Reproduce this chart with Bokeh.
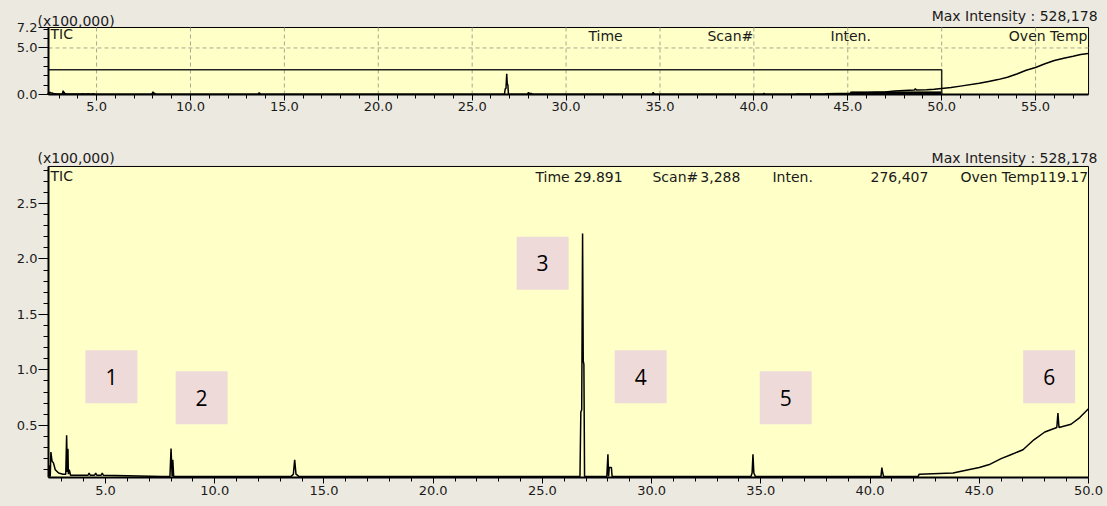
from bokeh.plotting import figure
from bokeh.layouts import column
from bokeh.models import Range1d, FixedTicker, Label, PrintfTickFormatter, ColumnDataSource
from bokeh.core.properties import value
from bokeh.embed import file_html
from bokeh.resources import INLINE

# ---------------- data (intensity in units of 100,000) ----------------
time_min = [2.40, 2.44, 2.47, 2.50, 2.55, 2.62, 2.70, 2.85, 3.05, 3.18, 3.22, 3.25, 3.28, 3.30,
            3.34, 3.40, 3.60, 4.20, 4.25, 4.30, 4.50, 4.55, 4.60, 4.80, 4.85, 4.90, 7.60,
            7.95, 8.00, 8.05, 8.08, 8.12, 13.50, 13.60, 13.66, 13.72, 13.85, 22.00,
            26.72, 26.76, 26.80, 26.84, 26.87, 26.90, 26.93, 27.95, 28.00, 28.03, 28.06,
            28.16, 28.19, 34.55, 34.60, 34.64, 34.68, 34.75, 40.50, 40.54, 40.58, 40.62,
            42.20, 42.25, 43.80, 44.50, 45.00, 45.50, 46.00, 46.50, 47.00, 47.50, 48.00,
            48.55, 48.60, 48.65, 49.20, 49.60, 50.00, 50.50, 51.00, 52.00, 52.50, 53.00,
            53.50, 54.00, 54.50, 55.00, 55.50, 56.00, 56.50, 57.00, 57.40, 57.80]
intensity = [0.03, 0.14, 0.04, 0.26, 0.18, 0.16, 0.10, 0.07, 0.06, 0.06, 0.41, 0.08, 0.29, 0.06,
             0.10, 0.05, 0.05, 0.05, 0.07, 0.05, 0.05, 0.07, 0.05, 0.05, 0.07, 0.05, 0.04,
             0.04, 0.29, 0.04, 0.19, 0.04, 0.04, 0.06, 0.19, 0.06, 0.04, 0.04,
             0.04, 0.62, 0.64, 2.23, 1.08, 1.05, 0.04, 0.04, 0.24, 0.04, 0.12,
             0.12, 0.04, 0.04, 0.07, 0.24, 0.07, 0.04, 0.04, 0.12, 0.07, 0.04,
             0.04, 0.06, 0.07, 0.10, 0.12, 0.15, 0.20, 0.24, 0.28, 0.37, 0.44,
             0.48, 0.61, 0.48, 0.51, 0.57, 0.65, 0.75, 0.90, 1.20, 1.40, 1.60,
             1.85, 2.20, 2.60, 2.90, 3.30, 3.65, 3.90, 4.10, 4.30, 4.40]

# plotted windows (time range, intensity range) of the two panels
top_window = (2.44, 57.82, 0.0, 7.2)
bot_window = (2.39, 50.0, 0.03, 2.833)

# zoom window drawn in the overview
zoom_x = [2.44, 50.0, 50.0]
zoom_y = [2.66, 2.66, 0.0]
# highlighted strip in the overview
strip_left, strip_right, strip_top = [45.15], [50.0], [0.28]

# peak number labels
peak_labels = ["1", "2", "3", "4", "5", "6"]
peak_label_x = [5.27, 9.40, 25.01, 29.50, 36.14, 48.20]
peak_label_y = [0.937, 0.748, 1.96, 0.937, 0.748, 0.937]

# ticks
top_x_ticks = [5, 10, 15, 20, 25, 30, 35, 40, 45, 50, 55]
top_x_minor = [3, 4, 6, 7, 8, 9, 11, 12, 13, 14, 16, 17, 18, 19, 21, 22, 23, 24, 26, 27, 28, 29,
               31, 32, 33, 34, 36, 37, 38, 39, 41, 42, 43, 44, 46, 47, 48, 49, 51, 52, 53, 54,
               56, 57]
top_y_ticks = [0, 5, 7.2]
top_y_minor = [1, 2, 3, 4, 6, 7]
bot_x_ticks = [5, 10, 15, 20, 25, 30, 35, 40, 45, 50]
bot_x_minor = [3, 4, 6, 7, 8, 9, 11, 12, 13, 14, 16, 17, 18, 19, 21, 22, 23, 24, 26, 27, 28, 29,
               31, 32, 33, 34, 36, 37, 38, 39, 41, 42, 43, 44, 46, 47, 48, 49]
bot_y_ticks = [0.5, 1.0, 1.5, 2.0, 2.5]
bot_y_minor = [0.1, 0.2, 0.3, 0.4, 0.6, 0.7, 0.8, 0.9, 1.1, 1.2, 1.3, 1.4, 1.6, 1.7, 1.8, 1.9,
               2.1, 2.2, 2.3, 2.4, 2.6, 2.7, 2.8]

# ---------------- styling ----------------
GRAY = "#ece9e0"
YELLOW = "#ffffc8"
FONT = "DejaVu Sans"
TICK_TXT = "13px"
TXT = "14px"


def style(p, window):
    x0, x1, y0, y1 = window
    p.background_fill_color = GRAY
    p.border_fill_color = GRAY
    p.outline_line_color = None
    p.grid.visible = False
    p.quad(left=[x0], right=[x1], bottom=[y0], top=[y1], fill_color=YELLOW,
           line_color="black", line_width=1, level="underlay")
    for ax in (p.xaxis[0], p.yaxis[0]):
        ax.axis_line_color = "black"
        ax.axis_line_width = 2
        ax.major_tick_line_color = "black"
        ax.minor_tick_line_color = "black"
        ax.major_tick_line_width = 1
        ax.minor_tick_line_width = 1
        ax.major_tick_in = 0
        ax.minor_tick_in = 0
        ax.major_label_text_font = FONT
        ax.major_label_text_font_size = TICK_TXT
        ax.major_label_text_color = "#1a1a1a"
        ax.formatter = PrintfTickFormatter(format="%.1f")
    xa, ya = p.xaxis[0], p.yaxis[0]
    xa.major_tick_out = 6
    xa.minor_tick_out = 4
    xa.major_label_standoff = 2
    ya.major_tick_out = 10
    ya.minor_tick_out = 5
    ya.major_label_standoff = 1
    xa.bounds = (x0, x1)
    ya.bounds = (y0, y1)
    ya.fixed_location = x0


def label(p, x, y, text, align="left"):
    p.add_layout(Label(x=x, y=y, text=text, text_font=FONT, text_font_size=TXT,
                       text_color="#1a1a1a", text_align=align, text_baseline="middle"))


# ---------------- overview (top) ----------------
p1 = figure(width=1107, height=140, x_range=Range1d(0.310, 58.83),
            y_range=Range1d(-4.943, 9.241),
            output_backend="svg", toolbar_location=None,
            min_border_left=8, min_border_right=0, min_border_top=8, min_border_bottom=0)
style(p1, top_window)
p1.xaxis[0].fixed_location = top_window[2]
p1.xaxis[0].ticker = FixedTicker(ticks=top_x_ticks, minor_ticks=top_x_minor)
p1.yaxis[0].ticker = FixedTicker(ticks=top_y_ticks, minor_ticks=top_y_minor)

# dashed grid
p1.segment(x0=top_x_ticks, y0=[top_window[2]] * len(top_x_ticks), x1=top_x_ticks,
           y1=[top_window[3]] * len(top_x_ticks), line_color="#a8a890", line_dash="4 3")
p1.segment(x0=[top_window[0]], y0=[5], x1=[top_window[1]], y1=[5],
           line_color="#a8a890", line_dash="4 3")

p1.quad(left=strip_left, right=strip_right, bottom=[0], top=strip_top,
        fill_color="black", line_color="black")
p1.line(zoom_x, zoom_y, line_color="#222222", line_width=1.5)
p1.line(time_min, intensity, line_color="black", line_width=1.5)

label(p1, 1.854, 7.90, "(x100,000)")
label(p1, 58.30, 8.44, "Max Intensity : 528,178", "right")
label(p1, 2.55, 6.45, "TIC")
label(p1, 31.19, 6.3, "Time")
label(p1, 37.53, 6.3, "Scan#")
label(p1, 44.08, 6.3, "Inten.")
label(p1, 57.76, 6.3, "Oven Temp", "right")

# ---------------- detail (bottom) ----------------
p2 = figure(width=1107, height=366, x_range=Range1d(0.559, 50.87), y_range=Range1d(0.03, 3.013),
            output_backend="svg", toolbar_location=None,
            min_border_left=8, min_border_right=0, min_border_top=6, min_border_bottom=29)
style(p2, bot_window)
p2.xaxis[0].ticker = FixedTicker(ticks=bot_x_ticks, minor_ticks=bot_x_minor)
p2.yaxis[0].ticker = FixedTicker(ticks=bot_y_ticks, minor_ticks=bot_y_minor)

bot_time = [t for t in time_min if t <= bot_window[1]]
bot_int = intensity[:len(bot_time)]
p2.line(bot_time, bot_int, line_color="black", line_width=1.5)

src = ColumnDataSource(dict(x=peak_label_x, y=peak_label_y, t=peak_labels))
p2.rect(x="x", y="y", width=52, height=53, width_units="screen", height_units="screen",
        source=src, fill_color="#efdada", line_color=None)
p2.text(x="x", y="y", text="t", source=src, text_align="center", text_baseline="middle",
        text_font=value("Open Sans"), text_font_size="21px", text_color="black")

label(p2, 1.886, 2.905, "(x100,000)")
label(p2, 50.41, 2.91, "Max Intensity : 528,178", "right")
label(p2, 2.48, 2.75, "TIC")
label(p2, 24.68, 2.734, "Time")
label(p2, 26.43, 2.734, "29.891")
label(p2, 30.04, 2.734, "Scan#")
label(p2, 32.23, 2.734, "3,288")
label(p2, 35.53, 2.734, "Inten.")
label(p2, 42.67, 2.734, "276,407", "right")
label(p2, 49.98, 2.734, "Oven Temp119.17", "right")

layout = column(p1, p2, spacing=0)
layout.styles = {"background-color": GRAY}
open("out.html", "w").write(file_html(layout, INLINE))
